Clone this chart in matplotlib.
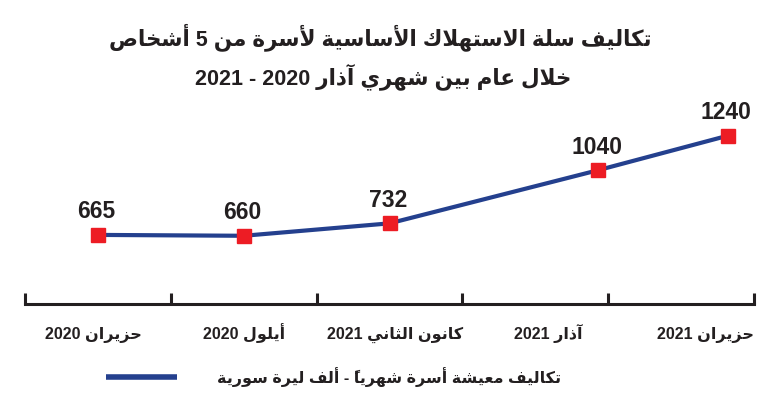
import re
import matplotlib
matplotlib.use("Agg")
import matplotlib.pyplot as plt
from matplotlib.lines import Line2D

# ---------------- data ----------------
categories = ["حزيران 2020", "أيلول 2020", "كانون الثاني 2021", "آذار 2021", "حزيران 2021"]
values = [665, 660, 732, 1040, 1240]
point_x = [0.50, 1.50, 2.50, 3.93, 4.82]
label_x = [0.47, 1.50, 2.54, 3.59, 4.67]
title_lines = ["تكاليف سلة الاستهلاك الأساسية لأسرة من 5 أشخاص",
               "خلال عام بين شهري آذار 2020 - 2021"]
legend_label = "تكاليف معيشة أسرة شهرياً - ألف ليرة سورية"

# ---------------- minimal Arabic shaping ----------------
FORMS = {
    "\u0621": ("\uFE80", None, None, None),
    "\u0622": ("\uFE81", "\uFE82", None, None),
    "\u0623": ("\uFE83", "\uFE84", None, None),
    "\u0625": ("\uFE87", "\uFE88", None, None),
    "\u0627": ("\uFE8D", "\uFE8E", None, None),
    "\u0628": ("\uFE8F", "\uFE90", "\uFE91", "\uFE92"),
    "\u0629": ("\uFE93", "\uFE94", None, None),
    "\u062A": ("\uFE95", "\uFE96", "\uFE97", "\uFE98"),
    "\u062B": ("\uFE99", "\uFE9A", "\uFE9B", "\uFE9C"),
    "\u062C": ("\uFE9D", "\uFE9E", "\uFE9F", "\uFEA0"),
    "\u062D": ("\uFEA1", "\uFEA2", "\uFEA3", "\uFEA4"),
    "\u062E": ("\uFEA5", "\uFEA6", "\uFEA7", "\uFEA8"),
    "\u062F": ("\uFEA9", "\uFEAA", None, None),
    "\u0630": ("\uFEAB", "\uFEAC", None, None),
    "\u0631": ("\uFEAD", "\uFEAE", None, None),
    "\u0632": ("\uFEAF", "\uFEB0", None, None),
    "\u0633": ("\uFEB1", "\uFEB2", "\uFEB3", "\uFEB4"),
    "\u0634": ("\uFEB5", "\uFEB6", "\uFEB7", "\uFEB8"),
    "\u0635": ("\uFEB9", "\uFEBA", "\uFEBB", "\uFEBC"),
    "\u0636": ("\uFEBD", "\uFEBE", "\uFEBF", "\uFEC0"),
    "\u0637": ("\uFEC1", "\uFEC2", "\uFEC3", "\uFEC4"),
    "\u0638": ("\uFEC5", "\uFEC6", "\uFEC7", "\uFEC8"),
    "\u0639": ("\uFEC9", "\uFECA", "\uFECB", "\uFECC"),
    "\u063A": ("\uFECD", "\uFECE", "\uFECF", "\uFED0"),
    "\u0641": ("\uFED1", "\uFED2", "\uFED3", "\uFED4"),
    "\u0642": ("\uFED5", "\uFED6", "\uFED7", "\uFED8"),
    "\u0643": ("\uFED9", "\uFEDA", "\uFEDB", "\uFEDC"),
    "\u0644": ("\uFEDD", "\uFEDE", "\uFEDF", "\uFEE0"),
    "\u0645": ("\uFEE1", "\uFEE2", "\uFEE3", "\uFEE4"),
    "\u0646": ("\uFEE5", "\uFEE6", "\uFEE7", "\uFEE8"),
    "\u0647": ("\uFEE9", "\uFEEA", "\uFEEB", "\uFEEC"),
    "\u0648": ("\uFEED", "\uFEEE", None, None),
    "\u0649": ("\uFEEF", "\uFEF0", None, None),
    "\u064A": ("\uFEF1", "\uFEF2", "\uFEF3", "\uFEF4"),
}
LAM_ALEF = {"\u0622": ("\uFEF5", "\uFEF6"), "\u0623": ("\uFEF7", "\uFEF8"),
            "\u0625": ("\uFEF9", "\uFEFA"), "\u0627": ("\uFEFB", "\uFEFC")}


def is_mark(c):
    return "\u064B" <= c <= "\u0652"


def shape(text):
    toks = []
    i = 0
    while i < len(text):
        c = text[i]
        if c == "\u0644" and i + 1 < len(text) and text[i + 1] in LAM_ALEF:
            toks.append(("LA", text[i + 1]))
            i += 2
        else:
            toks.append(("C", c))
            i += 1

    def jtype(t):
        kind, c = t
        if kind == "LA":
            return "R"
        if is_mark(c):
            return "T"
        if c in FORMS:
            return "D" if FORMS[c][2] else "R"
        return "U"

    types = [jtype(t) for t in toks]
    out = []
    for idx, t in enumerate(toks):
        ty = types[idx]
        if ty in ("T", "U"):
            out.append(t[1])
            continue
        j = idx - 1
        while j >= 0 and types[j] == "T":
            j -= 1
        jp = j >= 0 and types[j] == "D"
        k = idx + 1
        while k < len(toks) and types[k] == "T":
            k += 1
        jn = ty == "D" and k < len(toks) and types[k] in ("D", "R")
        if t[0] == "LA":
            iso, fin = LAM_ALEF[t[1]]
            out.append(fin if jp else iso)
            continue
        iso, fin, ini, med = FORMS[t[1]]
        if jp and jn:
            out.append(med)
        elif jp:
            out.append(fin)
        elif jn:
            out.append(ini)
        else:
            out.append(iso)
    vis = "".join(out)[::-1]
    vis = re.sub(r"[0-9]+", lambda m: m.group(0)[::-1], vis)
    return vis


# ---------------- styling ----------------
BLUE = "#24408e"
RED = "#ed1c24"
INK = "#231f20"
FAM = ["Liberation Sans", "DejaVu Sans"]
plt.rcParams["font.family"] = FAM

fig = plt.figure(figsize=(7.81, 3.98), dpi=100)
ax = fig.add_axes([25 / 781, 1 - 304 / 398, 729 / 781, 204 / 398])
ax.set_xlim(0, 5)
ax.set_ylim(264.5, 1447.1)

ax.plot(point_x, values, color=BLUE, lw=3.0, zorder=2, solid_capstyle="round")
ax.plot(point_x, values, ls="none", marker="s", ms=10, color=RED, zorder=3)
for x, v in zip(point_x, values):
    ax.annotate(str(v), (x, v), xytext=(-1, 12), textcoords="offset points",
                ha="center", va="baseline", fontsize=16.5, fontweight="bold",
                color=INK, family=FAM)

for s in ("top", "left", "right"):
    ax.spines[s].set_visible(False)
ax.spines["bottom"].set_linewidth(2.2)
ax.spines["bottom"].set_color(INK)
ax.set_yticks([])
ax.set_xticks(range(6), [""] * 6)
ax.tick_params(axis="x", which="major", direction="in", length=8, width=2.2, color=INK)
ax.set_xticks(label_x, [shape(c) for c in categories], minor=True)
ax.tick_params(axis="x", which="minor", length=0, pad=25, labelsize=11.5, labelcolor=INK)
for lab in ax.get_xticklabels(minor=True):
    lab.set_fontweight("bold")
    lab.set_verticalalignment("baseline")
ax.patch.set_alpha(0)

fig.text(0.487, 1 - 37 / 398, shape(title_lines[0]), ha="center", va="center",
         fontsize=15.5, fontweight="bold", color=INK)
fig.text(0.49, 1 - 77 / 398, shape(title_lines[1]), ha="center", va="center",
         fontsize=15.5, fontweight="bold", color=INK)

proxy = Line2D([], [], color=BLUE, lw=4, solid_capstyle="butt")
fig.legend(handles=[proxy], labels=[shape(legend_label)], loc="center",
           bbox_to_anchor=(0.427, 1 - 377 / 398), frameon=False,
           prop={"size": 11.5, "weight": "bold", "family": FAM},
           handlelength=4.4, handletextpad=2.5, labelcolor=INK)

fig.savefig("out.png", dpi=100)
